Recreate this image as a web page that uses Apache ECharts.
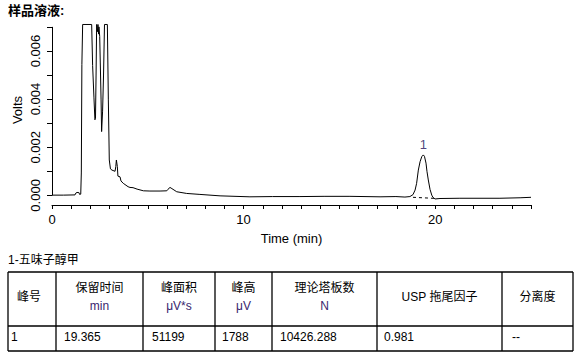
<!DOCTYPE html>
<html>
<head>
<meta charset="utf-8">
<script src="https://cdn.jsdelivr.net/npm/echarts@6/dist/echarts.min.js"></script>
<style>
html,body{margin:0;padding:0;background:#fff;}
#c{width:582px;height:360px;}
</style>
</head>
<body>
<div id="c"></div>
<script>
// ---- data ----
var titleText = '样品溶液:';
var timeMin = [0.00,0.60,1.20,1.25,1.30,1.40,1.44,1.50,1.53,1.56,1.60,2.07,2.12,2.19,2.24,2.27,2.30,2.33,2.37,2.40,2.43,2.45,2.49,2.52,2.56,2.59,2.64,2.69,2.74,2.89,2.94,2.99,3.05,3.13,3.29,3.33,3.36,3.41,3.44,3.55,3.60,3.72,3.81,3.97,4.07,4.23,4.44,4.77,5.11,5.64,5.99,6.05,6.16,6.26,6.51,7.03,7.72,8.77,10.33,11.50,12.94,14.20,15.55,17.12,17.95,18.42,18.68,18.84,18.95,19.03,19.12,19.21,19.30,19.38,19.44,19.52,19.57,19.64,19.73,19.82,19.88,19.99,20.25,21.29,23.38,24.43,25.00];
var volts = [0.00001,0.00001,0.00002,0.00010,0.00012,0.00012,0.00004,0.00005,0.00093,0.00544,0.00710,0.00710,0.00540,0.00405,0.00314,0.00320,0.00500,0.00710,0.00680,0.00710,0.00670,0.00700,0.00660,0.00550,0.00400,0.00265,0.00350,0.00500,0.00710,0.00710,0.00400,0.00147,0.00110,0.00105,0.00100,0.00120,0.00147,0.00120,0.00080,0.00077,0.00060,0.00050,0.00045,0.00036,0.00033,0.00032,0.00026,0.00019,0.00018,0.00018,0.00019,0.00025,0.00033,0.00028,0.00015,0.00008,0.00004,-0.00002,-0.00006,-0.00005,-0.00005,-0.00004,-0.00004,-0.00006,-0.00005,-0.00007,-0.00005,0.00003,0.00022,0.00050,0.00105,0.00140,0.00161,0.00168,0.00162,0.00134,0.00100,0.00064,0.00025,0.00001,-0.00008,-0.00015,-0.00013,-0.00012,-0.00012,-0.00010,-0.00008];
var baselineTimes = [18.84, 20.10];
var baselineVolts = [-0.00008, -0.00013];
var peakNames = ['1'];
var peakTimes = [19.38];
var peakVolts = [0.00168];
var xTicks = [0,1,2,3,4,5,6,7,8,9,10,11,12,13,14,15,16,17,18,19,20,21,22,23,24,25];
var xLabels = [0,10,20];
var yTicks = [0,0.001,0.002,0.003,0.004,0.005,0.006,0.007];
var yLabels = [0,0.002,0.004,0.006];
var compoundTitle = '1-五味子醇甲';
var tableHeaders = ['峰号','保留时间','峰面积','峰高','理论塔板数','USP 拖尾因子','分离度'];
var tableUnits = ['','min','μV*s','μV','N','',''];
var tableRow = ['1','19.365','51199','1788','10426.288','0.981','--'];

// ---- chart ----
var FONT = '"Liberation Sans", Arial, "Noto Sans CJK SC", sans-serif';
var UNIT_COLOR = '#3a1f6e';
var LABEL_COLOR = '#24105a';
var chart = echarts.init(document.getElementById('c'), null, {renderer: 'svg'});

var trace = timeMin.map(function(t, i){ return [t, volts[i]]; });
var base = baselineTimes.map(function(t, i){ return [t, baselineVolts[i]]; });
var peaks = peakTimes.map(function(t, i){ return {value: [t, peakVolts[i]], name: peakNames[i]}; });

// table layout
var colX = [8, 56, 143, 215, 272, 377, 502, 573];
var rowY = [272, 326, 351];
var dataX = [11, 64, 152, 222, 280, 384, 512];
var graphics = [];
graphics.push({type:'text', left: 8, top: 4, style:{text: titleText, font: 'bold 13px ' + FONT, fill:'#000'}});
graphics.push({type:'text', x: 17, y: 110, rotation: Math.PI/2, style:{text:'Volts', font:'13px ' + FONT, fill:'#000', align:'center', verticalAlign:'middle'}});
graphics.push({type:'text', x: 8, y: 260, style:{text: compoundTitle, font:'12px ' + FONT, fill:'#000', verticalAlign:'middle'}});
rowY.forEach(function(y){
  graphics.push({type:'line', shape:{x1: colX[0], y1: y, x2: colX[colX.length-1], y2: y}, style:{stroke:'#000', lineWidth:1.3}});
});
colX.forEach(function(x){
  graphics.push({type:'line', shape:{x1: x, y1: rowY[0], x2: x, y2: rowY[2]}, style:{stroke:'#000', lineWidth:1.3}});
});
tableHeaders.forEach(function(h, i){
  var cx = (colX[i] + colX[i+1]) / 2;
  if (i === 0) cx = 29;
  if (tableUnits[i]) {
    graphics.push({type:'text', x: cx, y: 288, style:{text: h, font:'12px ' + FONT, fill:'#000', align:'center', verticalAlign:'middle'}});
    graphics.push({type:'text', x: cx, y: 306, style:{text: tableUnits[i], font:'12px ' + FONT, fill: UNIT_COLOR, align:'center', verticalAlign:'middle'}});
  } else {
    graphics.push({type:'text', x: cx, y: 297, style:{text: h, font:'12px ' + FONT, fill:'#000', align:'center', verticalAlign:'middle'}});
  }
});
tableRow.forEach(function(v, i){
  graphics.push({type:'text', x: dataX[i], y: 337, style:{text: v, font:'12px ' + FONT, fill:'#000', verticalAlign:'middle'}});
});

chart.setOption({
  animation: false,
  backgroundColor: '#fff',
  grid: {left: 52, right: 51, top: 24, bottom: 155},
  xAxis: {
    type: 'value', min: 0, max: 25,
    name: 'Time (min)', nameLocation: 'middle', nameGap: 27,
    nameTextStyle: {fontFamily: FONT, fontSize: 13, color: '#000'},
    axisLine: {show: true, onZero: false, lineStyle: {color: '#000', width: 1}},
    axisTick: {show: true, length: 4, customValues: xTicks, lineStyle: {color: '#000'}},
    axisLabel: {customValues: xLabels, margin: 8, fontFamily: FONT, fontSize: 13, color: '#000'},
    splitLine: {show: false}
  },
  yAxis: {
    type: 'value', min: -0.0004, max: 0.00712,
    axisLine: {show: false},
    axisTick: {show: true, length: 5, customValues: yTicks, lineStyle: {color: '#000'}},
    axisLabel: {customValues: yLabels, rotate: 90, margin: 10, fontFamily: FONT, fontSize: 13, color: '#000',
      formatter: function(v){ return v.toFixed(3); }},
    splitLine: {show: false}
  },
  graphic: graphics,
  series: [
    {
      type: 'line', data: trace, showSymbol: false, symbol: 'none',
      lineStyle: {color: '#000', width: 1}, silent: true,
      markLine: {
        silent: true, symbol: ['none','none'], label: {show: false},
        lineStyle: {color: '#000', width: 1, type: 'solid'},
        data: [[{coord: [0, yTicks[0]]}, {coord: [0, yTicks[yTicks.length-1]]}]]
      }
    },
    {
      type: 'line', data: base, showSymbol: false, symbol: 'none',
      lineStyle: {color: '#000', width: 1, type: [3, 3]}, silent: true
    },
    {
      type: 'scatter', data: peaks, symbolSize: 0, silent: true,
      label: {show: true, position: 'top', distance: 4, formatter: '{b}', fontFamily: FONT, fontSize: 13, color: LABEL_COLOR}
    }
  ]
});
</script>
</body>
</html>
